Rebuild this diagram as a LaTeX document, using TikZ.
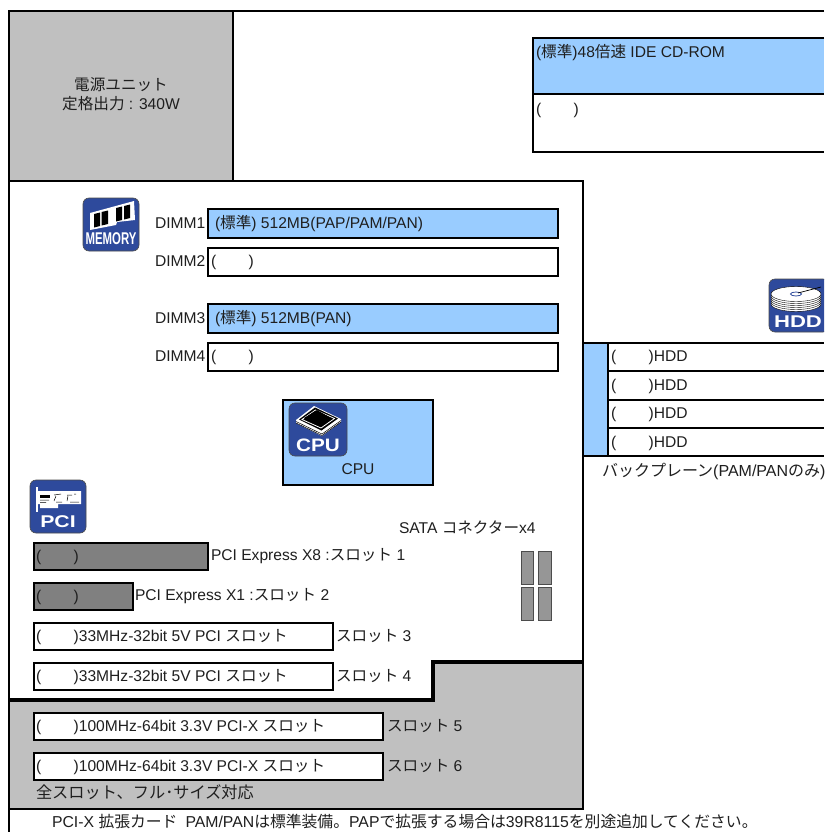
\documentclass[tikz,border=0pt]{standalone}
\usepackage{fontspec}
\setmainfont{Liberation Sans}
\newfontfamily\cjk{Noto Sans CJK JP}
\newcommand{\jp}[1]{{\cjk #1}}
\definecolor{lblue}{HTML}{99CCFF}
\definecolor{lgray}{HTML}{C0C0C0}
\definecolor{dgray}{HTML}{808080}
\definecolor{sgray}{HTML}{969696}
\definecolor{iconblue}{HTML}{2E4A9C}
\tikzset{
  x=1pt,y=-1pt,
  frame/.style={draw=black,line width=2pt},
  thickframe/.style={draw=black,line width=3.5pt},
  lab/.style={anchor=base west,inner sep=0pt,outer sep=0pt,font=\fontsize{15.6}{19}\selectfont,text=black!88},
  iconbox/.style={fill=iconblue,draw=black!70,line width=.6pt,rounded corners=6pt},
  icontxt/.style={text=white,inner sep=0pt,font=\fontsize{17}{17}\selectfont\bfseries},
  satabox/.style={fill=sgray,draw=black!70,line width=.7pt}
}
\newcommand{\parens}[4]{% name, x, y, gap
  \node[lab] (#1) at (#2,#3) {(\hspace{#4pt})};}
\begin{document}
\begin{tikzpicture}
\useasboundingbox (0,0) rectangle (824,832);
\clip (0,0) rectangle (824,832);
\fill[white] (0,0) rectangle (824,832);
% grey zones
\fill[lgray] (9,11) rectangle (233,181);
\fill[lgray] (9,700) -- (433,700) -- (433,662) -- (583,662) -- (583,809) -- (9,809) -- cycle;
% frame
\draw[frame] (824,11) -- (9,11) -- (9,832);
\draw[frame] (233,11) -- (233,181);
\draw[frame] (9,181) -- (583,181) -- (583,809) -- (9,809);
\draw[thickframe] (9,700) -- (433,700) -- (433,662) -- (583,662);
% CD
\filldraw[frame,fill=lblue] (824,38.5) -- (533,38.5) -- (533,94.5) -- (824,94.5);
\draw[frame] (533,94.5) -- (533,152) -- (824,152);
% DIMM
\filldraw[frame,fill=lblue] (208,209) rectangle (558,238);
\draw[frame,fill=white] (208,247.5) rectangle (558,276);
\filldraw[frame,fill=lblue] (208,304) rectangle (558,333);
\draw[frame,fill=white] (208,343) rectangle (558,371);
% CPU
\filldraw[frame,fill=lblue] (283,400) rectangle (433,485);
% PCI
\filldraw[frame,fill=dgray] (33.5,542.5) rectangle (208,570);
\filldraw[frame,fill=dgray] (33.5,582.5) rectangle (133,610);
\draw[frame,fill=white] (33.5,622.5) rectangle (333,650);
\draw[frame,fill=white] (33.5,662.5) rectangle (333,690);
\draw[frame,fill=white] (33.5,712.5) rectangle (383,740);
\draw[frame,fill=white] (33.5,752.5) rectangle (383,780);
% SATA
\draw[satabox] (521,551) rectangle (533.5,584);
\draw[satabox] (538,551) rectangle (551,584);
\draw[satabox] (521,587) rectangle (533.5,620);
\draw[satabox] (538,587) rectangle (551,620);
% HDD rows
\fill[lblue] (583,343) rectangle (608,456);
\draw[frame] (583,343) -- (824,343);
\draw[frame] (608,371) -- (824,371);
\draw[frame] (608,399.5) -- (824,399.5);
\draw[frame] (608,428) -- (824,428);
\draw[frame] (583,456) -- (824,456);
\draw[frame] (608,343) -- (608,456);
\draw[frame] (583,343) -- (583,456);
% memory icon
\begin{scope}[shift={(83,198)}]
  \draw[iconbox] (0,0) rectangle (56,53);
  \fill[white] (7,15) -- (51,3) -- (52,22) -- (34,24) -- (33,27) -- (7,32) -- cycle;
  \fill[black] (11,16) -- (17,14.5) -- (17,28) -- (11,29.5) -- cycle;
  \fill[black] (18.5,14) -- (25,12.5) -- (25,26) -- (18.5,27.5) -- cycle;
  \fill[black] (33,10) -- (39,8.5) -- (39,22) -- (33,23.5) -- cycle;
  \fill[black] (41,8) -- (47,6.5) -- (47,20) -- (41,21.5) -- cycle;
  \node[icontxt,xscale=.67] (memtxt) at (28,41) {MEMORY};
\end{scope}
% cpu icon
\begin{scope}[shift={(289,403)}]
  \draw[iconbox] (0,0) rectangle (58,53);
  \fill[white] (7,20) -- (33,33) -- (52,19) -- (52,16) -- (25,3) -- (7,17) -- cycle;
  \draw[black,line width=.5pt] (7,18.5) -- (33,31) -- (52,17.5);
  \draw[black,line width=.5pt] (7,20) -- (33,32.5) -- (52,19);
  \fill[black] (10,16.5) -- (26,4.5) -- (49,15.5) -- (32.5,27.5) -- cycle;
  \draw[white,line width=.8pt] (13,16.5) -- (26.5,7) -- (45.5,15.5) -- (32,25) -- cycle;
  \fill[black] (15,15) -- (28,7) -- (42,15) -- (30,23) -- cycle;
  \node[icontxt,xscale=1.15,font=\fontsize{18}{18}\selectfont\bfseries] (cputxt) at (29,42) {CPU};
\end{scope}
% pci icon
\begin{scope}[shift={(30,480)}]
  \draw[iconbox] (0,0) rectangle (56,53);
  \fill[white] (6,7) rectangle (7.5,32);
  \fill[white] (8,11) -- (51,11) -- (51,24) -- (28,24) -- (28,28) -- (10,28) -- (10,24) -- (8,24) -- cycle;
  \fill[black] (10,15) rectangle (20,18);
  \draw[black,line width=.5pt] (10,20) -- (19,20) (10,22.5) -- (16,22.5) (24,15) -- (31,14) (24,21) -- (26,16) (26,22) -- (32,22) (37,15) -- (42,15) (37,21) -- (38,16) (40,22) -- (49,22) (44,14) -- (46,14);
  \node[icontxt,xscale=1.25] (pcitxt) at (28,42) {PCI};
\end{scope}
% hdd icon
\begin{scope}[shift={(769,279)}]
  \draw[iconbox] (0,0) rectangle (60,53);
  \foreach \d in {10,8,6,4,2}{\filldraw[fill=white,draw=black,line width=.4pt] (27,15+\d) ellipse (25 and 7.5);}
  \filldraw[fill=white,draw=black,line width=.4pt] (27,15) ellipse (25 and 7.5);
  \draw[iconblue,line width=.8pt] (27,15) ellipse (5.5 and 2);
  \draw[black,line width=.7pt] (29,14) -- (52,8);
  \node[icontxt,xscale=1.3] (hddtxt) at (29,43) {HDD};
\end{scope}
% texts
\node[lab,anchor=center,align=center] (psu) at (121,94.5) {\jp{電源ユニット}\\\jp{定格出力} : 340W};
\node[lab] (cd1) at (536,58) {(\jp{標準})48\jp{倍速} IDE CD-ROM};
\parens{cd2}{536}{115}{32.5}
\node[lab] (d1) at (155,228) {DIMM1};
\node[lab] (d2) at (155,266) {DIMM2};
\node[lab] (d3) at (155,323) {DIMM3};
\node[lab] (d4) at (155,361) {DIMM4};
\node[lab] (d1t) at (215,228) {(\jp{標準}) 512MB(PAP/PAM/PAN)};
\parens{d2t}{211}{266}{32.5}
\node[lab] (d3t) at (215,323) {(\jp{標準}) 512MB(PAN)};
\parens{d4t}{211}{361}{32.5}
\node[lab,anchor=base] (cpul) at (358,474) {CPU};
\node[lab] (sata) at (399,533) {SATA \jp{コネクター}x4};
\parens{p1}{36}{561}{32.5}
\node[lab] (p1l) at (211,560) {PCI Express X8 :\jp{スロット} 1};
\parens{p2}{36}{601}{32.5}
\node[lab] (p2l) at (135,600) {PCI Express X1 :\jp{スロット} 2};
\node[lab] (s3) at (36,641) {(\hspace{32.5pt})33MHz-32bit 5V PCI \jp{スロット}};
\node[lab] (s3l) at (336,641) {\jp{スロット} 3};
\node[lab] (s4) at (36,681) {(\hspace{32.5pt})33MHz-32bit 5V PCI \jp{スロット}};
\node[lab] (s4l) at (336,681) {\jp{スロット} 4};
\node[lab] (s5) at (36,731) {(\hspace{32.5pt})100MHz-64bit 3.3V PCI-X \jp{スロット}};
\node[lab] (s5l) at (387,731) {\jp{スロット} 5};
\node[lab] (s6) at (36,771) {(\hspace{32.5pt})100MHz-64bit 3.3V PCI-X \jp{スロット}};
\node[lab] (s6l) at (387,771) {\jp{スロット} 6};
\node[lab,font=\fontsize{16.2}{19}\selectfont] (full) at (36,798) {\jp{全スロット、フル･サイズ対応}};
\node[lab,font=\fontsize{15.8}{19}\selectfont] (foot) at (52,827) {PCI-X \jp{拡張カード}\hspace{8pt}PAM/PAN\jp{は標準装備。}PAP\jp{で拡張する場合は}39R8115\jp{を別途追加してください。}};
\node[lab] (h1) at (611,361) {(\hspace{32.5pt})HDD};
\node[lab] (h2) at (611,390) {(\hspace{32.5pt})HDD};
\node[lab] (h3) at (611,418) {(\hspace{32.5pt})HDD};
\node[lab] (h4) at (611,447) {(\hspace{32.5pt})HDD};
\node[lab,font=\fontsize{16}{19}\selectfont] (bp) at (602,476) {\jp{バックプレーン}(PAM/PAN\jp{のみ})};
\end{tikzpicture}
\end{document}
